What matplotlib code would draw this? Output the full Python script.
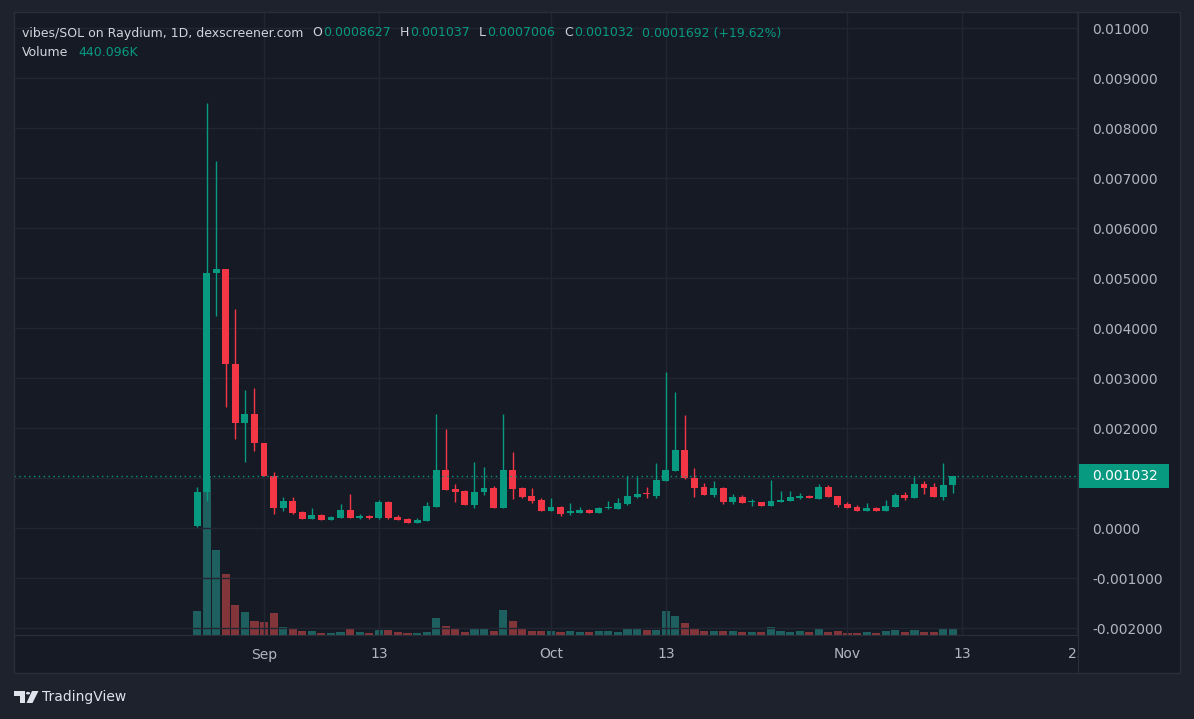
import matplotlib
matplotlib.use("Agg")
import matplotlib.pyplot as plt
import matplotlib.dates as mdates
import matplotlib.transforms as mtransforms
from matplotlib.patches import Rectangle, Polygon, Circle
import numpy as np
import pandas as pd

W, H = 1194, 719

# daily candles, prices in units of 0.001 SOL
dates = pd.date_range("2024-08-25", "2024-11-12", freq="D")
opens = [0.05, 0.72, 5.11, 5.18, 3.29, 2.11, 2.29, 1.70, 1.05, 0.40,
         0.54, 0.32, 0.19, 0.27, 0.17, 0.21, 0.37, 0.21, 0.25, 0.20,
         0.53, 0.23, 0.19, 0.11, 0.15, 0.43, 1.17, 0.79, 0.75, 0.47,
         0.72, 0.81, 0.41, 1.17, 0.81, 0.65, 0.57, 0.35, 0.43, 0.31,
         0.31, 0.37, 0.31, 0.40, 0.39, 0.49, 0.63, 0.69, 0.64, 0.95,
         1.15, 1.57, 1.01, 0.83, 0.67, 0.81, 0.53, 0.63, 0.52, 0.52,
         0.45, 0.53, 0.55, 0.61, 0.63, 0.59, 0.83, 0.64, 0.48, 0.42,
         0.35, 0.40, 0.35, 0.43, 0.67, 0.61, 0.89, 0.82, 0.63, 0.8627]
closes = [0.72, 5.11, 5.18, 3.28, 2.11, 2.29, 1.70, 1.05, 0.40, 0.54,
          0.30, 0.19, 0.27, 0.17, 0.23, 0.37, 0.21, 0.25, 0.20, 0.53,
          0.20, 0.17, 0.11, 0.17, 0.45, 1.17, 0.77, 0.73, 0.47, 0.72,
          0.81, 0.41, 1.17, 0.79, 0.62, 0.55, 0.35, 0.43, 0.29, 0.33,
          0.37, 0.31, 0.41, 0.41, 0.51, 0.65, 0.69, 0.68, 0.96, 1.17,
          1.57, 1.00, 0.81, 0.67, 0.81, 0.53, 0.63, 0.51, 0.53, 0.45,
          0.55, 0.57, 0.63, 0.63, 0.61, 0.83, 0.63, 0.47, 0.41, 0.35,
          0.40, 0.35, 0.44, 0.67, 0.60, 0.89, 0.81, 0.63, 0.87, 1.032]
highs = [0.83, 8.51, 7.33, 5.19, 4.39, 2.77, 2.81, 1.71, 1.12, 0.62,
         0.63, 0.35, 0.41, 0.29, 0.24, 0.48, 0.69, 0.29, 0.27, 0.57,
         0.54, 0.26, 0.20, 0.20, 0.53, 2.29, 1.99, 0.88, 0.76, 1.32,
         1.23, 0.85, 2.29, 1.53, 0.82, 0.81, 0.61, 0.61, 0.44, 0.51,
         0.43, 0.39, 0.43, 0.55, 0.61, 1.05, 1.02, 0.83, 1.31, 3.12,
         2.73, 2.27, 1.21, 0.91, 0.95, 0.82, 0.69, 0.66, 0.59, 0.53,
         0.97, 0.75, 0.75, 0.71, 0.66, 0.89, 0.87, 0.65, 0.52, 0.46,
         0.50, 0.42, 0.57, 0.71, 0.73, 1.03, 0.95, 0.90, 1.31, 1.037]
lows = [0.02, 0.54, 4.24, 2.42, 1.79, 1.33, 1.54, 1.04, 0.28, 0.34,
        0.29, 0.18, 0.18, 0.16, 0.16, 0.20, 0.20, 0.19, 0.19, 0.19,
        0.19, 0.16, 0.10, 0.10, 0.14, 0.42, 0.76, 0.53, 0.46, 0.40,
        0.67, 0.40, 0.40, 0.59, 0.60, 0.51, 0.34, 0.34, 0.25, 0.27,
        0.30, 0.30, 0.30, 0.39, 0.38, 0.46, 0.61, 0.60, 0.61, 0.94,
        1.14, 0.99, 0.63, 0.66, 0.63, 0.48, 0.49, 0.50, 0.45, 0.44,
        0.44, 0.52, 0.54, 0.59, 0.60, 0.58, 0.62, 0.43, 0.40, 0.34,
        0.34, 0.34, 0.34, 0.42, 0.57, 0.60, 0.69, 0.62, 0.57, 0.7006]
# volume in thousands
volumes_k = [1750, 11700, 6200, 4450, 2200, 1680, 1020, 950, 1600, 580,
             440, 290, 290, 150, 150, 220, 440, 220, 150, 370,
             370, 220, 150, 150, 220, 1250, 660, 510, 220, 440,
             510, 290, 1830, 1020, 440, 290, 290, 290, 220, 290,
             220, 220, 290, 290, 220, 510, 440, 370, 370, 1750,
             1390, 880, 510, 290, 290, 290, 290, 220, 220, 220,
             580, 290, 220, 290, 220, 440, 220, 290, 150, 150,
             220, 150, 290, 370, 220, 370, 220, 220, 510, 440.096]

tick_dates = ["2024-09-01", "2024-09-13", "2024-10-01", "2024-10-13",
              "2024-11-01", "2024-11-13", "2024-11-25"]
tick_labels = ["Sep", "13", "Oct", "13", "Nov", "13", "25"]
grid_prices = [0.010, 0.009, 0.008, 0.007, 0.006, 0.005, 0.004, 0.003,
               0.002, 0.001, 0.0, -0.001, -0.002]
price_ticks = [0.010, 0.009, 0.008, 0.007, 0.006, 0.005, 0.004, 0.003,
               0.002, 0.0, -0.001, -0.002]
price_labels = ["0.01000", "0.009000", "0.008000", "0.007000", "0.006000",
                "0.005000", "0.004000", "0.003000", "0.002000", "0.0000",
                "-0.001000", "-0.002000"]

BG_OUT = "#1e222d"
BG_PANE = "#161a25"
BORDER = "#2a2e39"
GRID = "#222632"
TEXT = "#d1d4dc"
AXIS_TXT = "#b2b5be"
UP = "#089981"
DOWN = "#f23645"
VOL_UP = "#1e605f"
VOL_DOWN = "#82363a"

o = np.array(opens) * 1e-3
c = np.array(closes) * 1e-3
hi = np.array(highs) * 1e-3
lo = np.array(lows) * 1e-3
vol = np.array(volumes_k)
x = mdates.date2num(dates)
up = c >= o


def box(x0, y0, x1, y1):
    # pixel box (top-left origin) -> figure fraction rect
    return [x0 / W, 1 - y1 / H, (x1 - x0) / W, (y1 - y0) / H]


fig = plt.figure(figsize=(W / 100, H / 100), dpi=100, facecolor=BG_OUT)
fig.add_artist(Rectangle((14 / W, 1 - 673 / H), (1180 - 14) / W, (673 - 12) / H,
                         transform=fig.transFigure, fc=BG_PANE, ec="none", zorder=-5))
fig.add_artist(Rectangle((14 / W, 1 - 673 / H), (1180 - 14) / W, (673 - 12) / H,
                         transform=fig.transFigure, fill=False, ec=BORDER, lw=1, zorder=5))

sep1 = mdates.date2num(pd.Timestamp("2024-09-01"))
xlim = (sep1 - 26.14, sep1 + 85.1)
ymin, ymax = -0.00214, 0.01032

# volume pane (behind candles)
vax = fig.add_axes(box(14, 12, 1078, 635), zorder=-1)
vax.bar(x, vol, width=0.85, color=np.where(up, VOL_UP, VOL_DOWN), linewidth=0)
vax.set_xlim(xlim)
vax.set_ylim(0, 45700)
vax.axis("off")

# price pane
ax = fig.add_axes(box(14, 12, 1078, 635), zorder=0)
ax.patch.set_visible(False)
colors = np.where(up, UP, DOWN)
ax.vlines(x, lo, hi, colors=colors, linewidth=1)
body = np.maximum(np.abs(c - o), 2.2e-5)
ax.bar(x, body, bottom=np.minimum(o, c), width=0.72, color=colors, linewidth=0)
ax.axhline(c[-1], color=UP, lw=1, ls=(0, (1, 2.5)))
ax.set_xlim(xlim)
ax.set_ylim(ymin, ymax)
ax.set_yticks(grid_prices)
ax.set_xticks(mdates.date2num(pd.to_datetime(tick_dates)))
ax.set_xticklabels(tick_labels)
ax.grid(True, color=GRID, lw=1)
ax.set_axisbelow(True)
ax.tick_params(axis="y", left=False, labelleft=False)
ax.tick_params(axis="x", length=0, pad=9, labelcolor=AXIS_TXT, labelsize=10)
for side in ["top", "left", "right"]:
    ax.spines[side].set_visible(False)
ax.spines["bottom"].set_color(BORDER)

# price scale column
pax = fig.add_axes(box(1078, 12, 1180, 673), zorder=1)
pax.set_facecolor(BG_PANE)
pax.set_xlim(0, 1)
pax.set_ylim(ymin - (673 - 635) / (635 - 12) * (ymax - ymin), ymax)
pax.set_xticks([])
pax.set_yticks(price_ticks)
pax.set_yticklabels(price_labels)
pax.tick_params(axis="y", length=0, pad=-10, labelcolor=AXIS_TXT, labelsize=10)
plt.setp(pax.get_yticklabels(), ha="left")
for side in ["top", "bottom", "right"]:
    pax.spines[side].set_visible(False)
pax.spines["left"].set_color(BORDER)

dy = (ymax - ymin) / 623 * 12
trans = mtransforms.blended_transform_factory(pax.transAxes, pax.transData)
pax.add_patch(Rectangle((0.01, c[-1] - dy), 0.88, 2 * dy, transform=trans,
                        fc=UP, ec="none", zorder=3))
pax.text(0.135, c[-1], f"{c[-1]:.6f}", transform=trans, ha="left", va="center",
         color="white", fontsize=10, zorder=4)

# legend header, laid out left to right with measured widths
renderer = fig.canvas.get_renderer()
header1 = [("vibes/SOL on Raydium, 1D, dexscreener.com", TEXT, 9),
           ("O", TEXT, 1), ("0.0008627", UP, 9),
           ("H", TEXT, 1), ("0.001037", UP, 9),
           ("L", TEXT, 1), ("0.0007006", UP, 9),
           ("C", TEXT, 1), ("0.001032", UP, 9),
           ("0.0001692 (+19.62%)", UP, 0)]
header2 = [("Volume", TEXT, 10), ("440.096K", UP, 0)]
for line, py in [(header1, 33), (header2, 53)]:
    px = 22
    for s, col, gap in line:
        t = fig.text(px / W, 1 - py / H, s, color=col, fontsize=9, va="center", ha="left")
        px = t.get_window_extent(renderer).x1 + gap

# TradingView mark
def P(px, py):
    return (px / W, 1 - py / H)

logo = "#e0e3eb"
fig.add_artist(Polygon([P(14, 691), P(25, 691), P(25, 703), P(20, 703), P(20, 695.5), P(14, 695.5)],
                       closed=True, transform=fig.transFigure, fc=logo, ec="none"))
fig.add_artist(Circle(P(28, 693.2), 2.1 / W, transform=fig.transFigure, fc=logo, ec="none"))
fig.add_artist(Polygon([P(32, 691), P(38.5, 691), P(32.5, 703), P(26.5, 703)],
                       closed=True, transform=fig.transFigure, fc=logo, ec="none"))
fig.text(42 / W, 1 - 697 / H, "TradingView", color=logo, fontsize=10, va="center")

fig.savefig("out.png", dpi=100, facecolor=BG_OUT)
